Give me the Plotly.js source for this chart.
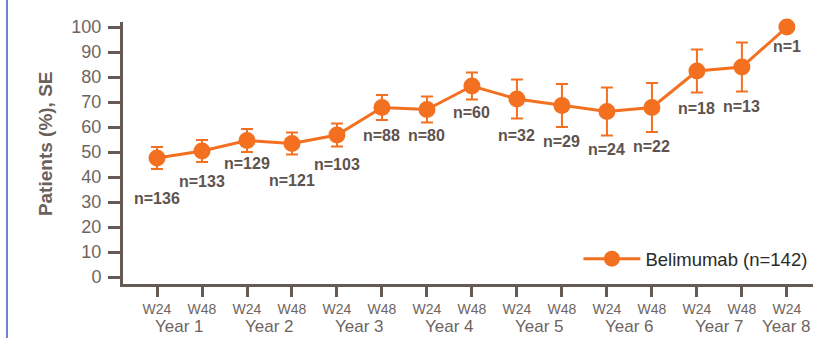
<!DOCTYPE html>
<html>
<head>
<meta charset="utf-8">
<script src="https://cdn.plot.ly/plotly-3.0.1.min.js"></script>
<style>
  html, body { margin: 0; padding: 0; background: #fff; }
  #wrap { position: relative; width: 840px; height: 338px; }
  #chart { width: 840px; height: 338px; }
  #edge { position: absolute; left: 6px; top: 0; width: 2px; height: 338px; background: #6a88c8; }
</style>
</head>
<body>
<div id="wrap"><div id="chart"></div><div id="edge"></div></div>
<script>
// ---- data ----
const weeks = ["W24","W48","W24","W48","W24","W48","W24","W48","W24","W48","W24","W48","W24","W48","W24"];
const years = ["Year 1","Year 2","Year 3","Year 4","Year 5","Year 6","Year 7","Year 8"];
const patientsPct = [47.6, 50.4, 54.6, 53.4, 56.8, 67.8, 67.0, 76.4, 71.2, 68.6, 66.2, 67.8, 82.4, 84.0, 100];
const stdErr = [4.4, 4.4, 4.6, 4.4, 4.6, 5.0, 5.2, 5.4, 7.8, 8.6, 9.6, 9.8, 8.6, 9.8, 0];
const nCounts = [136, 133, 129, 121, 103, 88, 80, 60, 32, 29, 24, 22, 18, 13, 1];
const seriesName = "Belimumab (n=142)";
const yTitle = "Patients (%), SE";
const yTicks = [0,10,20,30,40,50,60,70,80,90,100];

// ---- style / placement (pixels below each point for the n labels) ----
const labelDrop = [40, 30, 23, 37, 29, 28, 26, 26, 36, 36, 38, 39, 37, 39, 19];
const ORANGE = "#f37021";
const AXIS = "#665a55";
const TICKTXT = "#6e6561";
const FONT = "Liberation Sans, Arial, sans-serif";

const xIdx = weeks.map((_, i) => i);

const trace = {
  x: xIdx,
  y: patientsPct,
  type: "scatter",
  mode: "lines+markers",
  name: seriesName,
  line: { color: ORANGE, width: 3 },
  marker: { color: ORANGE, size: 17 },
  error_y: { type: "data", array: stdErr, visible: true, color: ORANGE, thickness: 2, width: 6 },
  cliponaxis: false
};

const annotations = [];
nCounts.forEach((n, i) => {
  annotations.push({
    x: xIdx[i], y: patientsPct[i], xref: "x", yref: "y",
    text: "<b>n=" + n + "</b>", showarrow: false,
    yshift: -labelDrop[i], xanchor: "center", yanchor: "middle",
    font: { family: FONT, size: 16, color: "#5e524e" }
  });
});
years.forEach((yr, k) => {
  const pos = (k < years.length - 1) ? (xIdx[2 * k] + xIdx[2 * k + 1]) / 2 : xIdx[2 * k];
  annotations.push({
    x: pos, xref: "x", y: -0.164, yref: "paper",
    text: yr, showarrow: false, xanchor: "center", yanchor: "middle",
    borderpad: 0,
    font: { family: FONT, size: 17, color: TICKTXT }
  });
});
// y-axis title
annotations.push({
  x: -0.113, xref: "paper", y: 0.534, yref: "paper",
  text: "<b>" + yTitle + "</b>", showarrow: false, textangle: -90,
  xanchor: "center", yanchor: "middle",
  font: { family: FONT, size: 19, color: "#6a605c" }
});

const layout = {
  width: 840, height: 338,
  margin: { l: 123, r: 27, t: 22, b: 54 },
  paper_bgcolor: "#fff", plot_bgcolor: "#fff",
  font: { family: FONT, color: TICKTXT },
  showlegend: true,
  legend: {
    x: 0.66, y: 0.095, xanchor: "left", yanchor: "middle",
    bgcolor: "rgba(0,0,0,0)", itemwidth: 57,
    font: { family: FONT, size: 18.5, color: "#2a2a2a" }
  },
  xaxis: {
    range: [-0.756, 14.58],
    tickmode: "array", tickvals: xIdx, ticktext: weeks,
    ticks: "outside", ticklen: 10, tickwidth: 3, tickcolor: AXIS,
    showline: true, linecolor: AXIS, linewidth: 3,
    showgrid: false, zeroline: false,
    tickfont: { family: FONT, size: 14, color: TICKTXT },
    ticklabelstandoff: 0
  },
  yaxis: {
    range: [-2.8, 102],
    tickmode: "array", tickvals: yTicks,
    ticks: "outside", ticklen: 12, tickwidth: 3, tickcolor: AXIS,
    showline: true, linecolor: AXIS, linewidth: 3,
    showgrid: false, zeroline: false,
    tickfont: { family: FONT, size: 18, color: TICKTXT },
    ticklabelstandoff: 3
  },
  annotations: annotations
};

Plotly.newPlot("chart", [trace], layout, { displayModeBar: false, staticPlot: true });
</script>
</body>
</html>
